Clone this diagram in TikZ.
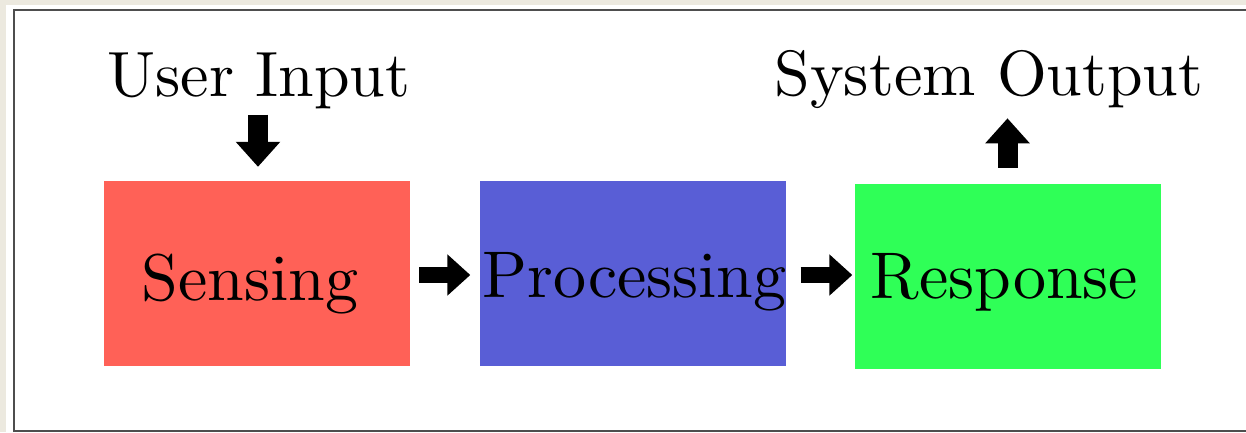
\documentclass[tikz,border=0pt]{standalone}
\usepackage{fontspec}
\usetikzlibrary{arrows.meta}

% Latin Modern in its 10pt design at every size
\newfontfamily\tenfont{lmroman10-regular.otf}

\definecolor{pagebg}{RGB}{236,233,223}
\definecolor{framegray}{RGB}{78,78,78}
\definecolor{sensered}{RGB}{255,97,87}
\definecolor{procblue}{RGB}{89,94,214}
\definecolor{respgreen}{RGB}{47,255,87}

\tikzset{
  stage/.style={rectangle, draw=none, inner sep=0pt, minimum width=306pt, minimum height=185pt},
  boxtext/.style={inner sep=0pt, anchor=base, font=\tenfont\fontsize{66}{70}\selectfont},
  iotext/.style={inner sep=0pt, anchor=base, font=\tenfont\fontsize{64}{68}\selectfont},
  flowarrow/.style={line width=16pt, line cap=butt, -{Triangle[width=40pt,length=23pt]}},
  vertarrow/.style={line width=20pt, line cap=butt, -{Triangle[width=43pt,length=25pt]}}
}

\begin{document}
\begin{tikzpicture}[x=1pt, y=-1pt]
  % page and frame
  \useasboundingbox (0,0) rectangle (1246,432);
  \fill[pagebg] (0,0) rectangle (1246,432);
  \fill[white] (6,5) rectangle (1246,432);
  \draw[framegray, line width=2pt] (14,432) -- (14,9.5) -- (1246,9.5);
  \draw[framegray, line width=2pt] (13,431) -- (1246,431);

  % the three stages
  \node[stage, fill=sensered]  (sense) at (257,273.5)  {};
  \node[stage, fill=procblue]  (proc)  at (632.5,273.5) {};
  \node[stage, fill=respgreen] (resp)  at (1007.5,276.5) {};

  \node[boxtext] (senseT) at (250,300)    {Sensing};
  \node[boxtext] (procT)  at (634.5,297)  {Processing};
  \node[boxtext] (respT)  at (1004.5,298) {Response};

  % input and output labels
  \node[iotext] (uin)  at (259,96) {User Input};
  \node[iotext] (sout) at (989,95) {System Output};

  % connectors
  \draw[flowarrow, shorten <=9pt, shorten >=9pt]
    ([yshift=-1.5pt]sense.east) -- ([yshift=-1.5pt]proc.west);
  \draw[flowarrow, shorten <=15pt, shorten >=2pt]
    ([yshift=-1.5pt]proc.east) -- ([yshift=-1.5pt]proc.east -| resp.west);
  \draw[vertarrow, shorten <=6pt, shorten >=14pt]
    ([xshift=-1pt]uin.south) -- ([xshift=-1pt]uin.south |- sense.north);
  \draw[vertarrow, shorten <=16pt, shorten >=10pt]
    (resp.north) -- (resp.north |- sout.south);
\end{tikzpicture}
\end{document}
